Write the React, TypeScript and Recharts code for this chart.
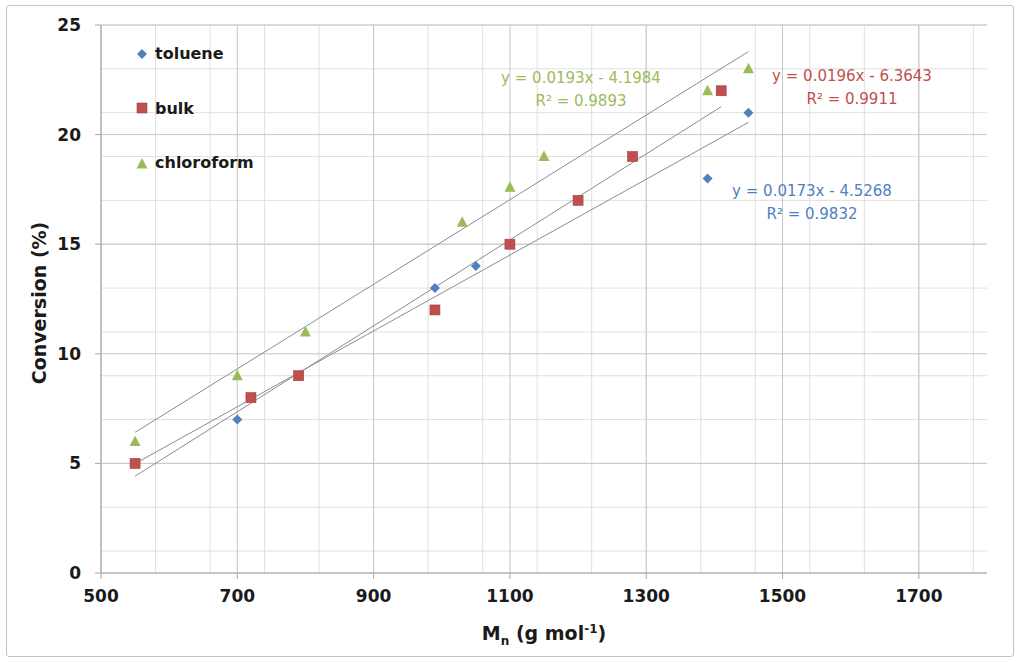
import React from 'react';
import {
    ScatterChart,
    Scatter,
    XAxis,
    YAxis,
    CartesianGrid,
    ReferenceLine,
} from 'recharts';

// x = Mn (g/mol), y = conversion (%)
const tolueneMn = [550, 700, 990, 1050, 1390, 1450];
const tolueneConv = [5, 7, 13, 14, 18, 21];

const bulkMn = [550, 720, 790, 990, 1100, 1200, 1280, 1410];
const bulkConv = [5, 8, 9, 12, 15, 17, 19, 22];

const chloroMn = [550, 700, 800, 1030, 1100, 1150, 1390, 1450];
const chloroConv = [6, 9, 11, 16, 17.6, 19, 22, 23];

// trendline equations as printed on the chart
const tolueneFit = { slope: 0.0173, icpt: -4.5268, r2: '0.9832' };
const bulkFit = { slope: 0.0196, icpt: -6.3643, r2: '0.9911' };
const chloroFit = { slope: 0.0193, icpt: -4.1984, r2: '0.9893' };

const xTicks = [500, 700, 900, 1100, 1300, 1500, 1700];
const yTicks = [0, 5, 10, 15, 20, 25];

const xMinor: number[] = [];
for (let v = 500; v < 1800; v += 40) xMinor.push(v);
const yMinor: number[] = [];
for (let v = 0; v <= 25; v += 1) yMinor.push(v);

const BLUE = '#4F81BD';
const RED = '#C0504D';
const GREEN = '#9BBB59';
const FONT = '"DejaVu Sans", sans-serif';

const toPoints = (xs: number[], ys: number[]) => xs.map((x, i) => ({ x, y: ys[i] }));

const fitSegment = (xs: number[], fit: { slope: number; icpt: number }) => {
    const x0 = Math.min(...xs);
    const x1 = Math.max(...xs);
    return [
        { x: x0, y: fit.slope * x0 + fit.icpt },
        { x: x1, y: fit.slope * x1 + fit.icpt },
    ];
};

const Diamond = ({ cx, cy, fill }: any) => (
    <path d={`M${cx},${cy - 5} L${cx + 5},${cy} L${cx},${cy + 5} L${cx - 5},${cy} Z`} fill={fill} />
);
const Square = ({ cx, cy, fill }: any) => (
    <rect x={cx - 5} y={cy - 5} width={10} height={10} fill={fill} stroke="#a0403d" strokeWidth={0.6} />
);
const Triangle = ({ cx, cy, fill }: any) => (
    <path d={`M${cx},${cy - 6} L${cx + 5.5},${cy + 4.5} L${cx - 5.5},${cy + 4.5} Z`} fill={fill} />
);

const fmtEq = (fit: { slope: number; icpt: number }) =>
    `y = ${fit.slope}x - ${Math.abs(fit.icpt).toFixed(4)}`;

const EqLabel = ({ left, top, color, fit }: any) => (
    <div style={{
        position: 'absolute', left, top, width: 200, textAlign: 'center',
        color, fontFamily: FONT, fontSize: 15, lineHeight: '23px',
    }}>
        <div>{fmtEq(fit)}</div>
        <div>R² = {fit.r2}</div>
    </div>
);

const legendItems = [
    { name: 'toluene', color: BLUE, shape: 'diamond' },
    { name: 'bulk', color: RED, shape: 'square' },
    { name: 'chloroform', color: GREEN, shape: 'triangle' },
];

const tickStyle = { fill: '#1a1a1a', fontSize: 17, fontWeight: 700, fontFamily: FONT };

export default function App() {
    return (
        <div style={{ position: 'absolute', left: 0, top: 0, width: 1016, height: 662, background: '#fff' }}>
            <div style={{
                position: 'absolute', left: 6, top: 5, width: 1006, height: 650,
                border: '1.5px solid #c4c4c4', borderRadius: 3,
            }} />
            <ScatterChart width={1016} height={662} margin={{ top: 25, right: 29, bottom: 0, left: 0 }}>
                <CartesianGrid stroke="#e0e0e0" strokeWidth={1} horizontalValues={yMinor} verticalValues={xMinor} />
                <CartesianGrid stroke="#c6c6c6" strokeWidth={1} horizontalValues={yTicks} verticalValues={xTicks} />
                <XAxis
                    type="number"
                    dataKey="x"
                    domain={[500, 1800]}
                    ticks={xTicks}
                    height={89}
                    tickSize={6}
                    tickMargin={11}
                    axisLine={{ stroke: '#a6a6a6' }}
                    tickLine={{ stroke: '#a6a6a6' }}
                    tick={tickStyle}
                />
                <YAxis
                    type="number"
                    dataKey="y"
                    domain={[0, 25]}
                    ticks={yTicks}
                    width={101}
                    tickSize={6}
                    tickMargin={14}
                    axisLine={{ stroke: '#a6a6a6' }}
                    tickLine={{ stroke: '#a6a6a6' }}
                    tick={tickStyle}
                />
                <ReferenceLine segment={fitSegment(chloroMn, chloroFit)} stroke="#8c8c8c" strokeWidth={1} />
                <ReferenceLine segment={fitSegment(bulkMn, bulkFit)} stroke="#8c8c8c" strokeWidth={1} />
                <ReferenceLine segment={fitSegment(tolueneMn, tolueneFit)} stroke="#8c8c8c" strokeWidth={1} />
                <Scatter name="toluene" data={toPoints(tolueneMn, tolueneConv)} fill={BLUE} shape={<Diamond />} isAnimationActive={false} />
                <Scatter name="bulk" data={toPoints(bulkMn, bulkConv)} fill={RED} shape={<Square />} isAnimationActive={false} />
                <Scatter name="chloroform" data={toPoints(chloroMn, chloroConv)} fill={GREEN} shape={<Triangle />} isAnimationActive={false} />
            </ScatterChart>

            {/* legend, inside the plot at top left */}
            <div style={{ position: 'absolute', left: 134, top: 40, fontFamily: FONT, fontSize: 16, fontWeight: 700, color: '#1a1a1a' }}>
                {legendItems.map((it, i) => (
                    <div key={it.name} style={{ display: 'flex', alignItems: 'center', height: 27, marginBottom: i < 2 ? 27.5 : 0 }}>
                        <svg width={16} height={16} style={{ marginRight: 5 }}>
                            {it.shape === 'diamond' && <Diamond cx={8} cy={8} fill={it.color} />}
                            {it.shape === 'square' && <Square cx={8} cy={8} fill={it.color} />}
                            {it.shape === 'triangle' && <Triangle cx={8} cy={9} fill={it.color} />}
                        </svg>
                        <span>{it.name}</span>
                    </div>
                ))}
            </div>

            <EqLabel left={481} top={67} color={GREEN} fit={chloroFit} />
            <EqLabel left={752} top={65} color={RED} fit={bulkFit} />
            <EqLabel left={712} top={180} color={BLUE} fit={tolueneFit} />

            {/* axis titles */}
            <div style={{
                position: 'absolute', left: 39, top: 303, transform: 'translate(-50%, -50%) rotate(-90deg)',
                whiteSpace: 'nowrap', fontFamily: FONT, fontSize: 19, fontWeight: 700, color: '#1a1a1a',
            }}>
                Conversion (%)
            </div>
            <div style={{
                position: 'absolute', left: 544, top: 635, transform: 'translate(-50%, -50%)',
                whiteSpace: 'nowrap', fontFamily: FONT, fontSize: 19, fontWeight: 700, color: '#1a1a1a',
            }}>
                M<sub style={{ fontSize: 12 }}>n</sub> (g mol<sup style={{ fontSize: 12 }}>-1</sup>)
            </div>
        </div>
    );
}
